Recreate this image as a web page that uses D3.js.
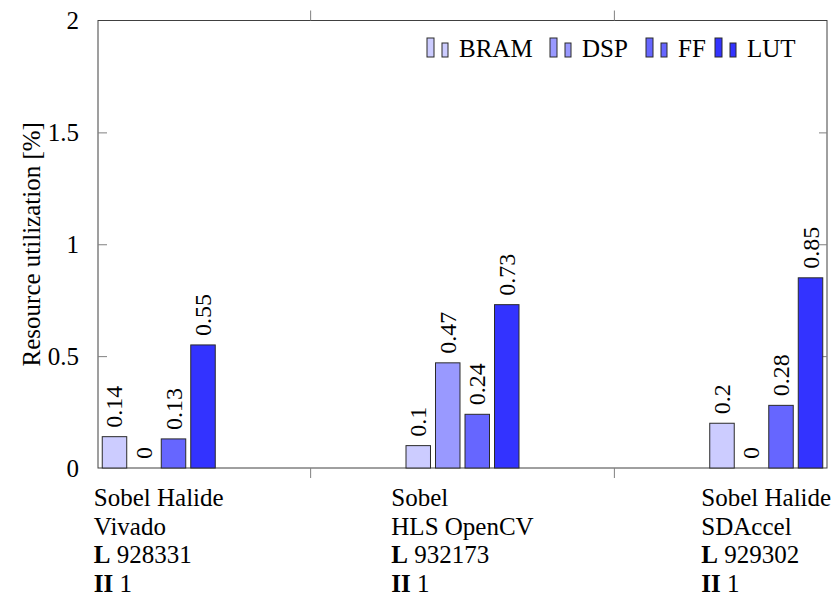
<!DOCTYPE html>
<html>
<head>
<meta charset="utf-8">
<script src="https://cdn.jsdelivr.net/npm/d3@7"></script>
<style>
  body { margin: 0; background: #fff; }
</style>
</head>
<body>
<div class="chart"></div>
<script>
// data
var categories = ["halide_vivado", "hls_opencv", "halide_sdaccel"];
var labelLines = [
  [["", "Sobel Halide"], ["", "Vivado"], ["L", " 928331"], ["II", " 1"]],
  [["", "Sobel"], ["", "HLS OpenCV"], ["L", " 932173"], ["II", " 1"]],
  [["", "Sobel Halide"], ["", "SDAccel"], ["L", " 929302"], ["II", " 1"]]
];
var seriesNames = ["BRAM", "DSP", "FF", "LUT"];
var seriesColors = ["#ccccff", "#9999ff", "#6666ff", "#3333ff"];
var bramValues = [0.14, 0.1, 0.2];
var dspValues = [0, 0.47, 0];
var ffValues = [0.13, 0.24, 0.28];
var lutValues = [0.55, 0.73, 0.85];
var yTicks = [0, 0.5, 1, 1.5, 2];
var yTickLabels = ["0", "0.5", "1", "1.5", "2"];
var legendX = [427, 550, 646, 715];

var seriesValues = [bramValues, dspValues, ffValues, lutValues];
var serif = "'Liberation Serif', 'DejaVu Serif', 'Noto Serif', Tinos, 'Times New Roman', Times, 'Nimbus Roman', FreeSerif, serif";

var svgWidth = 838, svgHeight = 599;
var plot = { left: 98, right: 827, top: 20.5, bottom: 468 };

var svg = d3.select(".chart")
  .append("svg")
  .attr("width", svgWidth)
  .attr("height", svgHeight)
  .style("font-family", serif);

// scales
var xScale = d3.scalePoint()
  .domain(categories)
  .range([plot.left, plot.right])
  .padding(0.2);

var subScale = d3.scaleBand()
  .domain(seriesNames)
  .range([-56.5, 56.5])
  .paddingInner(0.17);

var yScale = d3.scaleLinear()
  .domain([0, 2])
  .range([plot.bottom, plot.top]);

// frame
svg.append("rect")
  .attr("x", plot.left)
  .attr("y", plot.top)
  .attr("width", plot.right - plot.left)
  .attr("height", plot.bottom - plot.top)
  .attr("fill", "none")
  .attr("stroke", "#404040")
  .attr("stroke-width", 1);

// y axis ticks inside on both sides, labels on the left
var yAxisL = d3.axisLeft(yScale).tickValues(yTicks).tickSize(-9).tickPadding(19)
  .tickFormat((d, i) => yTickLabels[i]);
var yAxisR = d3.axisRight(yScale).tickValues(yTicks).tickSize(-8).tickFormat("");

var gyl = svg.append("g").attr("transform", `translate(${plot.left}, 0)`).call(yAxisL);
var gyr = svg.append("g").attr("transform", `translate(${plot.right}, 0)`).call(yAxisR);
[gyl, gyr].forEach(function (g) {
  g.attr("font-family", null);
  g.select(".domain").remove();
  g.selectAll(".tick line").attr("stroke", "#808080");
  g.selectAll(".tick").filter(d => d === 0 || d === 2).select("line").remove();
});
gyl.selectAll(".tick text")
  .style("font-family", serif)
  .attr("font-size", 25)
  .attr("fill", "#000");

// x ticks between categories, outward on top and bottom
var midTicks = [];
for (var i = 0; i < categories.length - 1; i++) {
  midTicks.push((xScale(categories[i]) + xScale(categories[i + 1])) / 2);
}
svg.selectAll(".xtick-b")
  .data(midTicks)
  .enter()
  .append("line")
  .attr("x1", d => d).attr("x2", d => d)
  .attr("y1", plot.bottom).attr("y2", plot.bottom + 10)
  .attr("stroke", "#808080");
svg.selectAll(".xtick-t")
  .data(midTicks)
  .enter()
  .append("line")
  .attr("x1", d => d).attr("x2", d => d)
  .attr("y1", plot.top).attr("y2", plot.top - 10)
  .attr("stroke", "#808080");

// bars
var barData = [];
categories.forEach(function (c, ci) {
  seriesNames.forEach(function (s, si) {
    barData.push({ cat: c, series: s, si: si, value: seriesValues[si][ci] });
  });
});

var bars = svg.append("g");
bars.selectAll("rect")
  .data(barData)
  .enter()
  .append("rect")
  .attr("x", d => xScale(d.cat) + subScale(d.series))
  .attr("y", d => yScale(d.value))
  .attr("width", subScale.bandwidth())
  .attr("height", d => yScale(0) - yScale(d.value))
  .attr("fill", d => seriesColors[d.si])
  .attr("stroke", "#2a2a2a")
  .attr("stroke-width", 1);

// value labels, rotated
bars.selectAll("text")
  .data(barData)
  .enter()
  .append("text")
  .attr("transform", function (d) {
    var cx = xScale(d.cat) + subScale(d.series) + subScale.bandwidth() / 2 + 8;
    var cy = yScale(d.value) - 9;
    return `translate(${cx}, ${cy}) rotate(-90)`;
  })
  .style("font-family", serif)
  .attr("font-size", 24)
  .text(d => d3.format("")(d.value));

// y axis title
svg.append("text")
  .attr("transform", `translate(40, ${(plot.top + plot.bottom) / 2}) rotate(-90)`)
  .attr("text-anchor", "middle")
  .style("font-family", serif)
  .attr("font-size", 25)
  .text("Resource utilization [%]");

// category labels, left aligned block centred under each group
var lineY = [506, 534.5, 563, 591.5];
categories.forEach(function (c, ci) {
  var g = svg.append("g");
  var texts = g.selectAll("text")
    .data(labelLines[ci])
    .enter()
    .append("text")
    .attr("y", (d, i) => lineY[i])
    .style("font-family", serif)
    .attr("font-size", 25);
  texts.append("tspan").attr("font-weight", "bold").text(d => d[0]);
  texts.append("tspan").text(d => d[1]);
  var maxW = 0;
  texts.each(function () { maxW = Math.max(maxW, this.getComputedTextLength()); });
  texts.attr("x", xScale(c) - maxW / 2);
});

// legend
var legend = svg.append("g");
seriesNames.forEach(function (s, si) {
  var x0 = legendX[si];
  legend.append("rect")
    .attr("x", x0).attr("y", 38).attr("width", 7).attr("height", 19)
    .attr("fill", seriesColors[si]).attr("stroke", "#2a2a2a");
  legend.append("rect")
    .attr("x", x0 + 15).attr("y", 43).attr("width", 6).attr("height", 14)
    .attr("fill", seriesColors[si]).attr("stroke", "#2a2a2a");
  legend.append("text")
    .attr("x", x0 + 32).attr("y", 57)
    .style("font-family", serif)
    .attr("font-size", 25)
    .text(s);
});
</script>
</body>
</html>
